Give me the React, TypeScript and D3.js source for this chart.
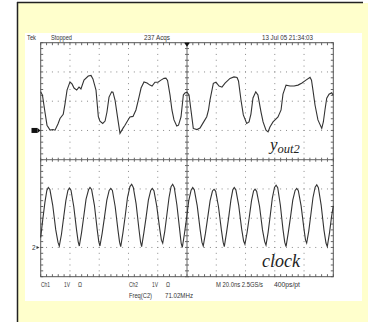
import React, { useRef, useEffect } from 'react';
import * as d3 from 'd3';

// yout2 trace (ch1): [time ns, volts]
const yout2: [number, number][] = [
  [0, 1.32], [1.2, 1.21], [2.9, 0.63], [4.3, 0.18], [6.4, 0.01], [8.4, 0.03], [9.8, 0.01],
  [11.8, 0.22], [13.2, 0.41], [15.4, 0.55], [16.6, 0.9], [18, 1.38], [20, 1.66], [21.4, 1.59],
  [22.8, 1.45], [24.6, 1.38], [26.2, 1.48], [27.5, 1.42], [29.6, 1.72], [32.5, 1.86], [34.4, 1.88],
  [35.7, 1.76], [37.8, 1.38], [39.4, 0.47], [40.5, 0.32], [42.4, 0.24], [44, 0.32], [45.3, 0.63],
  [46.7, 1.14], [48.5, 1.32], [49.4, 1.31], [50.8, 1.04], [52.8, 0.36], [54.2, -0.1], [56.3, 0.08],
  [57.6, 0.18], [59.7, 0.36], [61, 0.46], [63.1, 0.48], [65.1, 0.7], [67.2, 1.14], [68.6, 1.45],
  [70.6, 1.66], [72.7, 1.62], [74.7, 1.55], [76.1, 1.52], [78.1, 1.65], [80.2, 1.65], [82.2, 1.72],
  [84.3, 1.78], [85.6, 1.79], [86.7, 1.71], [88.4, 1.21], [89.7, 0.7], [91.1, 0.36], [93, 0.15],
  [94.2, 0.18], [95.9, 0.46], [97.5, 1.21], [98.6, 1.28], [100, 1.31], [101.4, 1.21], [102.7, 0.7],
  [104.3, 0.07], [106.8, 0.03], [108.9, 0.08], [110.9, 0.25], [113.5, 0.47], [114.7, 0.7],
  [115.7, 1.04], [118, 1.61], [119.8, 1.65], [121.9, 1.52], [123.9, 1.48], [126, 1.62],
  [129.4, 1.78], [132.1, 1.83], [134.2, 1.81], [135.2, 1.69], [136.9, 1.04], [138.5, 0.53],
  [140.8, 0.24], [142.4, 0.29], [143.7, 0.56], [145.1, 1.11], [147, 1.32], [148.5, 1.21],
  [150.6, 0.63], [152, 0.29], [154, 0.01], [155.4, -0.05], [156.7, 0.12], [158.8, 0.29],
  [160.2, 0.36], [162.2, 0.46], [164.3, 0.7], [165.6, 1.24], [167.7, 1.55], [170.4, 1.52],
  [173.2, 1.52], [175.9, 1.55], [178.6, 1.62], [181.3, 1.72], [184.1, 1.82], [185.1, 1.72],
  [186.1, 1.38], [187.5, 0.87], [189.5, 0.36], [192.1, 0.07], [193.2, 0.29], [194.3, 0.7],
  [195.5, 1.1], [197.1, 1.24], [198.9, 1.29], [199.8, 1.21],
];

// clock trace (ch2): [time ns, volts]
const clock: [number, number][] = [
  [0, 0.34], [1.4, 0.95], [2.9, 1.55], [4.2, 1.95], [5.2, 2.05], [6.3, 1.98], [8.2, 1.45], [10.3, 0.6], [11.8, 0.18], [12.7, 0.05],
  [14.2, 0.45], [15.6, 1.0], [17.2, 1.6], [18.6, 1.95], [19.6, 2.03], [20.7, 1.96], [22.6, 1.4], [24.5, 0.6], [25.6, 0.2], [26.4, 0.05],
  [27.9, 0.5], [29.4, 1.05], [31.0, 1.65], [32.7, 1.97], [33.7, 2.05], [34.8, 1.98], [36.7, 1.45], [38.6, 0.62], [39.7, 0.2], [40.5, 0.05],
  [42.0, 0.48], [43.5, 1.0], [45.2, 1.62], [46.8, 1.95], [47.9, 2.02], [49.0, 1.95], [50.9, 1.4], [52.8, 0.6], [53.9, 0.18], [54.7, 0.03],
  [56.2, 0.5], [57.7, 1.05], [59.3, 1.7], [61.0, 2.08], [62.2, 2.16], [63.3, 2.05], [65.2, 1.5], [67.1, 0.65], [68.2, 0.2], [69.0, 0.03],
  [70.5, 0.5], [72.0, 1.02], [73.6, 1.62], [75.2, 1.95], [76.3, 2.02], [77.4, 1.94], [79.3, 1.42], [81.3, 0.65], [82.5, 0.25], [83.4, 0.15],
  [84.8, 0.55], [86.2, 1.1], [87.7, 1.7], [89.1, 2.08], [90.2, 2.16], [91.3, 2.05], [93.1, 1.45], [95.0, 0.6], [96.0, 0.15], [96.8, 0.0],
  [98.2, 0.45], [99.7, 1.0], [101.2, 1.6], [102.8, 1.96], [103.9, 2.05], [105.0, 1.97], [107.0, 1.42], [109.0, 0.6], [110.2, 0.18], [111.1, 0.05],
  [112.6, 0.48], [114.1, 1.0], [115.8, 1.6], [117.4, 1.93], [118.5, 1.99], [119.6, 1.92], [121.5, 1.4], [123.5, 0.6], [124.7, 0.18], [125.5, 0.03],
  [127.0, 0.5], [128.5, 1.03], [130.0, 1.62], [131.3, 1.97], [132.3, 2.05], [133.4, 1.97], [135.3, 1.45], [137.4, 0.62], [138.7, 0.22], [139.6, 0.11],
  [141.1, 0.52], [142.6, 1.05], [144.1, 1.6], [145.5, 1.93], [146.5, 1.99], [147.6, 1.92], [149.6, 1.4], [151.6, 0.6], [153.1, 0.2], [154.0, 0.08],
  [155.4, 0.5], [156.8, 1.05], [158.3, 1.68], [159.8, 2.05], [160.9, 2.13], [162.0, 2.04], [163.8, 1.45], [165.6, 0.62], [166.8, 0.18], [167.7, 0.03],
  [169.2, 0.5], [170.7, 1.02], [172.3, 1.62], [173.9, 1.95], [175.0, 2.02], [176.1, 1.94], [178.0, 1.42], [179.9, 0.65], [181.0, 0.25], [181.8, 0.15],
  [183.2, 0.55], [184.6, 1.1], [186.1, 1.7], [187.6, 2.06], [188.7, 2.14], [189.8, 2.04], [191.7, 1.45], [193.6, 0.6], [195.0, 0.15], [195.9, 0.03],
  [197.4, 0.5], [198.8, 1.05], [200, 1.42],
];

// status text: [label, x, width]
const headerLabels: [string, number, number][] = [
  ['Tek', 27, 9], ['Stopped', 51, 21], ['237 Acqs', 144, 26], ['13 Jul 05 21:34:03', 262, 51],
];
const footerLabels: [string, number, number][] = [
  ['Ch1', 41, 9], ['1V', 64, 6], ['\u03a9', 78, 4], ['Ch2', 129, 9], ['1V', 152, 6], ['\u03a9', 166, 4],
  ['M 20.0ns 2.5GS/s', 216, 47], ['400ps/pt', 274, 26],
];
const footerLabels2: [string, number, number][] = [['Freq(C2)', 129, 23], ['71.02MHz', 165, 28]];

const timeDomain: [number, number] = [0, 200];
const ch1Domain: [number, number] = [-5, 3];
const ch2Domain: [number, number] = [-1, 7];

const App: React.FC = () => {
  const svgRef = useRef<SVGSVGElement>(null);

  useEffect(() => {
    if (!svgRef.current) return;
    const svg = d3.select(svgRef.current);
    svg.selectAll('*').remove();

    const left = 40.7, right = 333.3, top = 42.7, bottom = 276.7;
    const x = d3.scaleLinear().domain(timeDomain).range([left, right]);
    const y1 = d3.scaleLinear().domain(ch1Domain).range([bottom, top]);
    const y2 = d3.scaleLinear().domain(ch2Domain).range([bottom, top]);

    // backdrop
    svg.append('rect').attr('x', 0).attr('y', 0).attr('width', 368).attr('height', 322).attr('fill', '#fff');
    svg.append('rect').attr('x', 18).attr('y', 3).attr('width', 350).attr('height', 319).attr('fill', '#ffffcc');
    svg.append('line').attr('x1', 17.5).attr('x2', 17.5).attr('y1', 2).attr('y2', 322).attr('stroke', '#222').attr('stroke-width', 1.5);
    svg.append('line').attr('x1', 17).attr('x2', 363).attr('y1', 2.5).attr('y2', 2.5).attr('stroke', '#222').attr('stroke-width', 1.5);
    svg.append('rect').attr('x', 25).attr('y', 33).attr('width', 337).attr('height', 268).attr('fill', '#fff');

    const g = svg.append('g');
    const xMajor = d3.range(0, 201, 20);
    const yMajor = d3.range(ch1Domain[0], ch1Domain[1] + 0.01, 1);
    const xMinor = d3.range(0, 200.01, 4);
    const yMinor = d3.range(ch1Domain[0], ch1Domain[1] + 0.01, 0.2);
    const midX = x(100), midY = y1(-1);

    // dotted graticule
    xMajor.slice(1, -1).filter((t) => t !== 100).forEach((t) => {
      yMinor.forEach((v) => {
        g.append('rect').attr('x', x(t) - 0.5).attr('y', y1(v) - 0.5).attr('width', 1).attr('height', 1).attr('fill', '#8a8a8a');
      });
    });
    yMajor.slice(1, -1).filter((v) => v !== -1).forEach((v) => {
      xMinor.forEach((t) => {
        g.append('rect').attr('x', x(t) - 0.5).attr('y', y1(v) - 0.5).attr('width', 1).attr('height', 1).attr('fill', '#8a8a8a');
      });
    });

    // center cross
    g.append('line').attr('x1', left).attr('x2', right).attr('y1', midY).attr('y2', midY).attr('stroke', '#666');
    g.append('line').attr('x1', midX).attr('x2', midX).attr('y1', top).attr('y2', bottom).attr('stroke', '#666');
    xMinor.forEach((t) => {
      g.append('line').attr('x1', x(t)).attr('x2', x(t)).attr('y1', midY - 2).attr('y2', midY + 2).attr('stroke', '#666');
      g.append('line').attr('x1', x(t)).attr('x2', x(t)).attr('y1', top).attr('y2', top + 2.5).attr('stroke', '#666');
      g.append('line').attr('x1', x(t)).attr('x2', x(t)).attr('y1', bottom - 2.5).attr('y2', bottom).attr('stroke', '#666');
    });
    yMinor.forEach((v) => {
      g.append('line').attr('x1', midX - 2).attr('x2', midX + 2).attr('y1', y1(v)).attr('y2', y1(v)).attr('stroke', '#666');
      g.append('line').attr('x1', left).attr('x2', left + 2.5).attr('y1', y1(v)).attr('y2', y1(v)).attr('stroke', '#666');
      g.append('line').attr('x1', right - 2.5).attr('x2', right).attr('y1', y1(v)).attr('y2', y1(v)).attr('stroke', '#666');
    });
    g.append('rect').attr('x', left).attr('y', top).attr('width', right - left).attr('height', bottom - top)
      .attr('fill', 'none').attr('stroke', '#555');

    // traces
    const line1 = d3.line<[number, number]>().x((d) => x(d[0])).y((d) => y1(d[1]));
    const line2 = d3.line<[number, number]>().x((d) => x(d[0])).y((d) => y2(d[1]));
    svg.append('path').attr('d', line1(yout2)).attr('fill', 'none').attr('stroke', '#333').attr('stroke-width', 1.1);
    svg.append('path').attr('d', line2(clock)).attr('fill', 'none').attr('stroke', '#333').attr('stroke-width', 1.1);

    // markers
    svg.append('rect').attr('x', 31.5).attr('y', y1(0) - 2.5).attr('width', 6).attr('height', 5).attr('fill', '#111');
    svg.append('path').attr('d', `M37.5,${y1(0) - 2.5}L40.5,${y1(0)}L37.5,${y1(0) + 2.5}Z`).attr('fill', '#111');
    svg.append('text').attr('x', 32).attr('y', y2(0) + 2.3).attr('font-family', 'Liberation Sans, Arial, sans-serif')
      .attr('font-size', 6.5).attr('fill', '#333').text('2');
    svg.append('path').attr('d', `M36.5,${y2(0) - 1.5}L39.5,${y2(0)}L36.5,${y2(0) + 1.5}Z`).attr('fill', '#333');
    svg.append('path').attr('d', `M${midX - 2.8},${top}L${midX + 2.8},${top}L${midX},${top + 4}Z`).attr('fill', '#111');

    // status texts
    const small = (rows: [string, number, number][], base: number) => {
      rows.forEach(([label, lx, w]) => {
        svg.append('text').attr('x', lx).attr('y', base).attr('font-family', 'Liberation Sans, Arial, sans-serif')
          .attr('font-size', 6.5).attr('fill', '#333').attr('textLength', w).attr('lengthAdjust', 'spacingAndGlyphs')
          .text(label);
      });
    };
    small(headerLabels, 40);
    small(footerLabels, 287);
    small(footerLabels2, 297.5);

    // trace names
    const yLabel = svg.append('text').attr('x', 270).attr('y', 150)
      .attr('font-family', 'Liberation Serif, Times New Roman, serif').attr('font-style', 'italic').attr('fill', '#222');
    yLabel.append('tspan').attr('font-size', 17).text('y');
    yLabel.append('tspan').attr('font-size', 12.5).attr('dy', 3).text('out2');
    svg.append('text').attr('x', 262).attr('y', 266.5)
      .attr('font-family', 'Liberation Serif, Times New Roman, serif').attr('font-style', 'italic')
      .attr('font-size', 18).attr('fill', '#222').text('clock');
  }, []);

  return (
    <div style={{ position: 'absolute', left: 0, top: 0 }}>
      <svg ref={svgRef} width={368} height={322} style={{ display: 'block' }} />
    </div>
  );
};

export default App;
